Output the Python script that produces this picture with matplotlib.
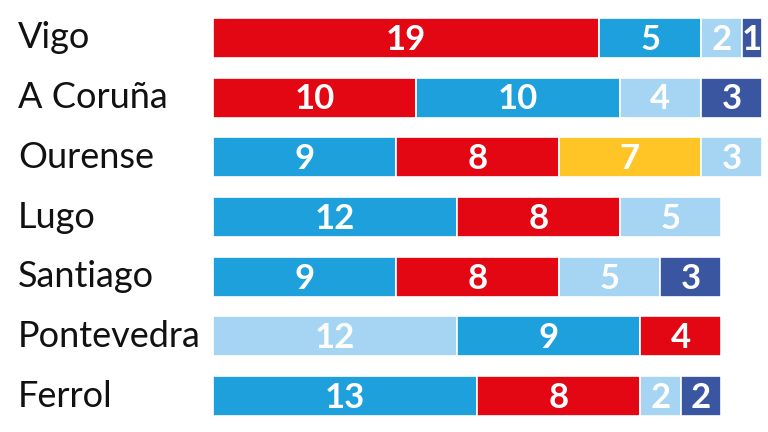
import numpy as np
import matplotlib.pyplot as plt
from matplotlib.transforms import blended_transform_factory

cities = ['Vigo', 'A Coruña', 'Ourense', 'Lugo', 'Santiago', 'Pontevedra', 'Ferrol']

# seats per segment (left to right) and their colour key
seats = [
    [19, 5, 2, 1],
    [10, 10, 4, 3],
    [9, 8, 7, 3],
    [12, 8, 5],
    [9, 8, 5, 3],
    [12, 9, 4],
    [13, 8, 2, 2],
]
parties = [
    ['red', 'blue', 'light', 'dark'],
    ['red', 'blue', 'light', 'dark'],
    ['blue', 'red', 'yellow', 'light'],
    ['blue', 'red', 'light'],
    ['blue', 'red', 'light', 'dark'],
    ['light', 'blue', 'red'],
    ['blue', 'red', 'light', 'dark'],
]
colors = {'red': '#E30613', 'blue': '#1EA0DC', 'light': '#A5D5F2',
          'dark': '#3A56A0', 'yellow': '#FFC425'}

plt.rcParams['font.family'] = ['Lato', 'DejaVu Sans']

fig = plt.figure(figsize=(7.68, 4.32), dpi=100)
ax = fig.add_axes([213/768, 6/432, 549/768, 418/432])
ax.set_xlim(0, 27)
ax.set_ylim(6.5, -0.5)
ax.axis('off')

label_tr = blended_transform_factory(fig.transFigure, ax.transData)

for i, (row, keys) in enumerate(zip(seats, parties)):
    left = 0
    for v, k in zip(row, keys):
        ax.barh(i, v, left=left, height=0.67, color=colors[k],
                edgecolor='white', linewidth=1.2)
        ax.text(left + v/2, i + 0.03, str(v), ha='center', va='center',
                color='white', fontsize=25, fontweight='bold')
        left += v
    ax.text(18/768, i, cities[i], transform=label_tr,
            ha='left', va='center', fontsize=26, color='#111111')

fig.savefig('out.png', dpi=100)
